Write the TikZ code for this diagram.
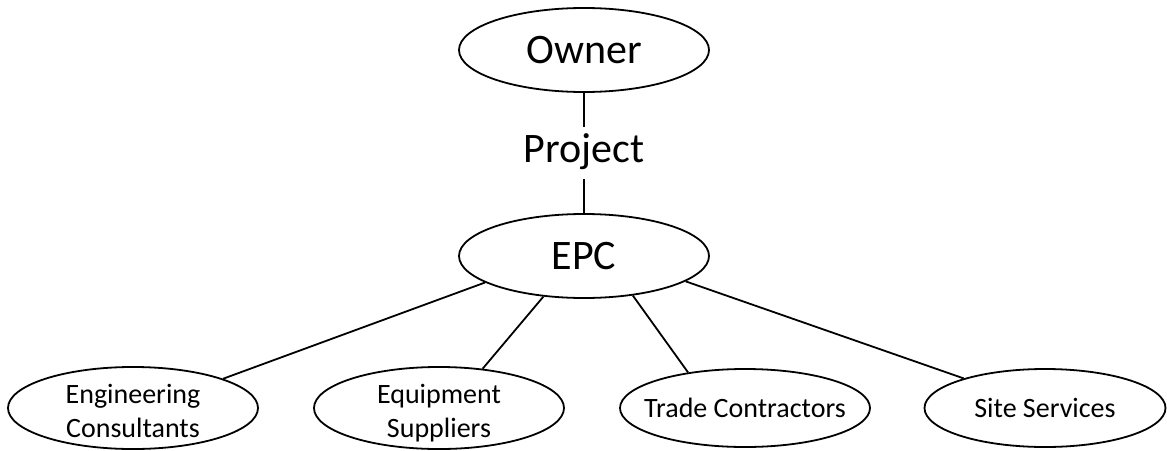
\documentclass[tikz,border=0pt]{standalone}
\usepackage{fontspec}
\setmainfont{Carlito}
\usetikzlibrary{shapes.geometric}
\tikzset{
  bigell/.style={ellipse, draw, line width=1.8pt, inner sep=0pt, minimum width=250pt, minimum height=84pt, font=\fontsize{42}{42}\selectfont},
  smallell/.style={ellipse, draw, line width=1.8pt, inner sep=0pt, minimum width=250pt, minimum height=78pt, align=center, font=\fontsize{28}{34}\selectfont},
  twoline/.style={text height=58pt, text depth=0pt},
  conn/.style={line width=1.8pt},
}
\begin{document}
\begin{tikzpicture}[x=1pt,y=-1pt]
\useasboundingbox (0,0) rectangle (1167,450);
\node[bigell] (owner) at (584,50) {Owner};
\node[font=\fontsize{42}{42}\selectfont, text height=27pt, text depth=8pt, inner xsep=2pt, inner ysep=8.5pt] (project) at (584,153) {Project};
\node[bigell] (epc) at (584,256) {EPC};
\node[smallell, twoline] (ec) at (133,408) {Engineering\\Consultants};
\node[smallell, twoline] (es) at (439,408) {Equipment\\Suppliers};
\node[smallell, inner xsep=-13pt] (tc) at (745,408) {Trade Contractors};
\node[smallell, minimum width=241pt] (ss) at (1045,408) {Site Services};
\draw[conn] (owner.south) -- (project.north);
\draw[conn] (project.south) -- (epc.north);
\draw[conn] (epc.-165.7) -- (ec.18.4);
\draw[conn] (epc.-135) -- (es.42.9);
\draw[conn] (epc.-39.9) -- (tc.148.7);
\draw[conn] (epc.-14.7) -- (ss.160.7);
\end{tikzpicture}
\end{document}
